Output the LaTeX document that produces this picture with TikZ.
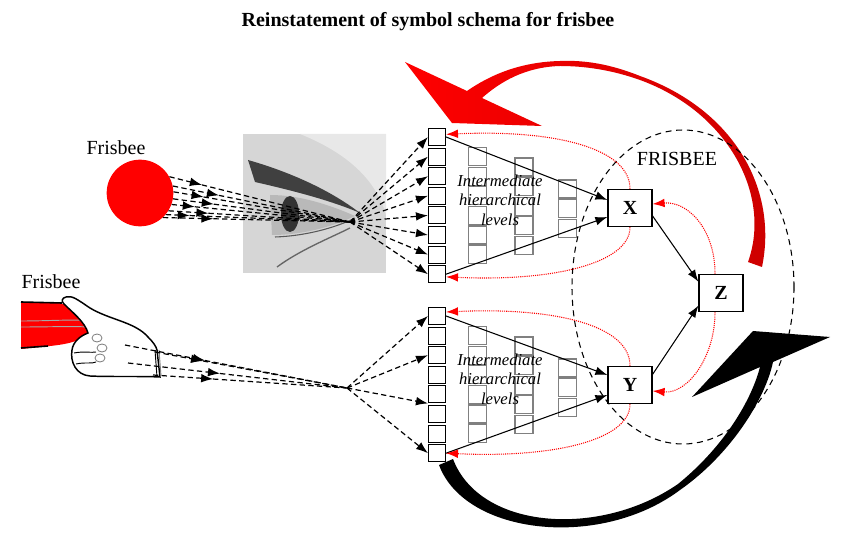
\documentclass[tikz,border=0pt]{standalone}
\usepackage{fontspec}
\setmainfont{Liberation Serif}
\usetikzlibrary{arrows.meta,calc}

\tikzset{
  unitbox/.style={draw,line width=0.8pt,fill=white,minimum size=12.75pt,inner sep=0pt},
  levelbox/.style={draw=gray,line width=0.8pt,minimum size=13.5pt,inner sep=0pt},
  symbox/.style={draw,line width=0.9pt,fill=white,minimum width=33pt,minimum height=28pt,inner sep=0pt,font=\fontsize{15}{15}\selectfont\bfseries},
  levels/.style={align=center,font=\fontsize{12.5}{14.5}\selectfont\itshape},
  tag/.style={font=\fontsize{15}{18}\selectfont},
  ray/.style={line width=0.9pt,dash pattern=on 4pt off 2.5pt},
  feed/.style={->,line width=0.8pt},
  back/.style={->,red,line width=0.8pt,dash pattern=on 0.8pt off 0.8pt},
  ring/.style={line width=0.8pt,dash pattern=on 4.5pt off 3.5pt},
}

\begin{document}
\begin{tikzpicture}[x=0.75pt,y=-0.75pt,>={Latex[length=9pt,width=6.5pt]}]
\useasboundingbox (0,0) rectangle (853,548);

\node[font=\fontsize{15}{18}\selectfont\bfseries] (title) at (428,22) {Reinstatement of symbol schema for frisbee};

% big feedback arrows
\shade[left color=red,right color=red!80!black]
  (762,267) .. controls (778,190) and (735,110) .. (640,76)
  .. controls (610,64) and (585,60) .. (560,61)
  .. controls (520,62) and (490,75) .. (467,91)
  -- (405,62) -- (452,123) -- (542,126) -- (482,98)
  .. controls (500,82) and (525,67) .. (560,66)
  .. controls (585,66) and (612,70) .. (640,80)
  .. controls (728,112) and (772,195) .. (748,262) -- cycle;
\fill (439,465) .. controls (465,535) and (600,550) .. (680,490)
  .. controls (730,455) and (765,400) .. (773,362)
  -- (830,337) -- (753,331) -- (692,397) -- (760,367)
  .. controls (750,405) and (720,450) .. (678,484)
  .. controls (600,538) and (480,530) .. (453,459) -- cycle;

% the schema
\draw[ring] (683,287) ellipse [x radius=111, y radius=157];
\node[tag] (schema) at (677,159) {FRISBEE};

% eye picture
\fill[gray!32] (243,134) rectangle (386,273);
\fill[gray!18] (300,134) .. controls (340,150) and (375,175) .. (386,215) -- (386,134) -- cycle;
\fill[gray!55] (270,195) .. controls (300,195) and (330,205) .. (355,216) .. controls (330,228) and (300,235) .. (272,235) -- cycle;
\fill[black!80] (290,214) ellipse [x radius=9, y radius=18];
\fill[black!75] (248,160) .. controls (290,172) and (330,190) .. (360,213) .. controls (330,200) and (290,190) .. (255,182) -- cycle;
\draw[gray!70!black,line width=0.8pt] (275,237) .. controls (305,236) and (335,228) .. (355,218);
\draw[black!60,line width=1pt] (277,267) .. controls (300,250) and (330,238) .. (350,228);

% frisbee seen
\node[circle,fill=red,minimum size=50pt,inner sep=0pt] (disc) at (140,193) {};
\node[tag] (seen) at (116,148) {Frisbee};

% frisbee in the hand
\fill[red] (21,302) -- (60,303) .. controls (80,310) and (92,320) .. (90,330) .. controls (85,340) and (70,344) .. (50,346) -- (21,349) -- cycle;
\draw[line width=1.2pt] (21,302) -- (62,303);
\draw[line width=1.2pt] (21,348) -- (48,346);
\draw[gray!70,line width=0.7pt] (21,321) .. controls (50,321) and (75,319) .. (88,321);
\draw[gray!70,line width=0.7pt] (21,327) .. controls (50,327) and (75,326) .. (86,327);
\filldraw[fill=white,line width=1.1pt]
  (66,297) .. controls (72,295) and (78,300) .. (90,308)
  .. controls (110,320) and (135,322) .. (148,337)
  .. controls (153,342) and (156,346) .. (157,350)
  -- (160,377)
  .. controls (140,376) and (110,377) .. (90,376)
  .. controls (76,375) and (70,362) .. (72,350)
  .. controls (73,342) and (80,336) .. (88,333)
  .. controls (85,322) and (72,312) .. (64,304)
  .. controls (61,301) and (62,298) .. (66,297) -- cycle;
\foreach \fx/\fy in {97/338,102/348,100/358}
  \draw[gray,line width=0.6pt] (\fx,\fy) ellipse [x radius=5, y radius=4];
\draw[line width=0.7pt] (74,353) .. controls (84,351) and (92,353) .. (96,352);
\draw[line width=0.7pt] (76,364) .. controls (85,362) and (92,364) .. (96,362);
\draw[line width=0.7pt] (155,350) -- (157,377);
\draw[gray,line width=0.7pt] (159,350) -- (161,376);
\node[tag] (held) at (51,282) {Frisbee};

% columns of units and intermediate levels
\foreach \g/\y in {t/137,b/316}{
  \foreach \i in {1,...,8}
    \node[unitbox] (\g\i) at (437,\y+19.6*\i-19.6) {};
  \foreach \i in {2,...,7}
    \node[levelbox] (\g a\i) at (477.5,\y+19.6*\i-19.6) {};
  \foreach \i in {0,...,4}
    \node[levelbox] (\g b\i) at (524,\y+30+19.6*\i) {};
  \foreach \i in {0,1,2}
    \node[levelbox] (\g c\i) at (567.5,\y+52+19.6*\i) {};
  \node[levels] (lev\g) at (500,\y+63) {Intermediate\\hierarchical\\levels};
}

\node[symbox] (X) at (630,208) {X};
\node[symbox] (Y) at (630,385) {Y};
\node[symbox] (Z) at (721,293) {Z};

% rays from the seen frisbee
\coordinate (eyefocus) at (350,222);
\foreach \a/\t in {29/.18,12/.26,2/.17,-10/.23,-20/.13,-32/.22,-40/.13,-47/.27}{
  \draw[ray,->] (disc.\a) -- ($(disc.\a)!\t!(eyefocus)$);
  \draw[ray] ($(disc.\a)!\t!(eyefocus)$) -- (eyefocus);
}
\foreach \i in {1,...,8}
  \draw[ray,->] (eyefocus) -- (t\i.west);

% rays from the hand
\coordinate (handfocus) at (347,388);
\foreach \sx/\sy/\t [count=\k] in {125/345/.36,128/363/.42,155/352/.25,153/375/.31}{
  \coordinate (grip\k) at (\sx,\sy);
  \draw[ray,->] (grip\k) -- ($(grip\k)!\t!(handfocus)$);
  \draw[ray] ($(grip\k)!\t!(handfocus)$) -- (handfocus);
}
\foreach \i in {b1.west,b3.west,b5.south west,b8.west}
  \draw[ray,->] (handfocus) -- (\i);

% feedforward
\draw[feed] (t1.east) -- ([yshift=6pt]X.west);
\draw[feed] (t8.east) -- ([yshift=-6.75pt]X.west);
\draw[feed] (b1.east) -- ([yshift=7.5pt]Y.west);
\draw[feed] (b8.east) -- ([yshift=-7.5pt]Y.west);
\draw[feed] ([yshift=-6pt]X.east) -- ([yshift=-6pt]Z.north west);
\draw[feed] ([yshift=8pt]Y.east) -- ([yshift=5pt]Z.south west);

% feedback
\draw[back] ([xshift=-4.5pt]Z.north) .. controls +(0,-45) and +(35,-3) .. ([yshift=3pt]X.east);
\draw[back] ([xshift=-4.5pt]Z.south) .. controls +(0,45) and +(35,3) .. ([yshift=-4.5pt]Y.east);
\draw[back] (X.north) .. controls +(0,-40) and +(110,-5) .. ([yshift=2pt]t1.east);
\draw[back] (X.south) .. controls +(0,35) and +(110,5) .. ([yshift=-2pt]t8.east);
\draw[back] (Y.north) .. controls +(0,-40) and +(110,-5) .. ([yshift=3pt]b1.east);
\draw[back] (Y.south) .. controls +(0,35) and +(110,5) .. (b8.east);
\end{tikzpicture}
\end{document}
